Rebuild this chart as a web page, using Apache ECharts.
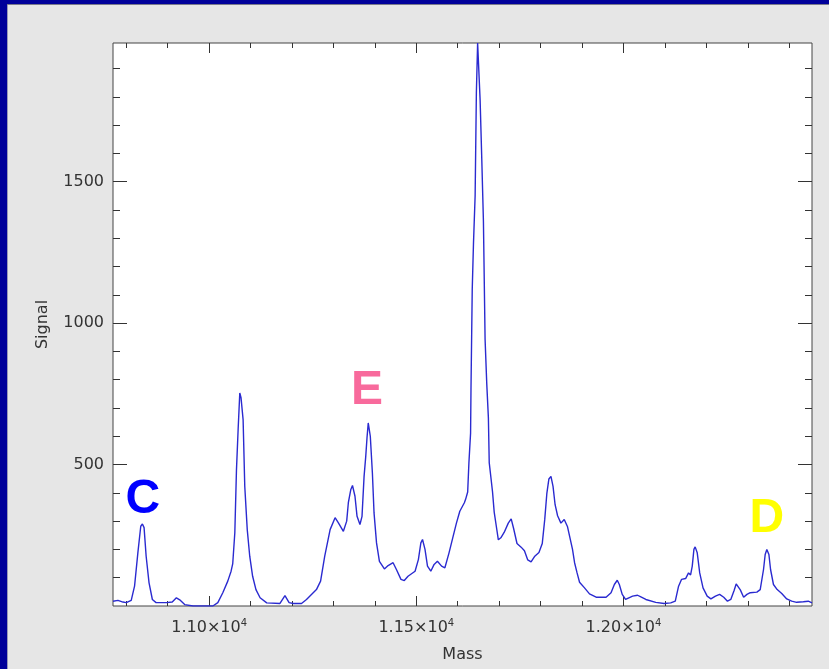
<!DOCTYPE html>
<html>
<head>
<meta charset="utf-8">
<script src="https://cdn.jsdelivr.net/npm/echarts@6/dist/echarts.min.js"></script>
<style>
  html, body { margin: 0; padding: 0; background: #e6e6e6; }
  #chart { width: 829px; height: 669px; }
</style>
</head>
<body>
<div id="chart"></div>
<script>
// Mass spectrum: signal vs. mass
const massValues = [
  10768, 10780, 10792, 10800, 10812, 10820, 10828, 10835, 10839, 10843,
  10848, 10855, 10863, 10872, 10897, 10911, 10921, 10929, 10941, 10961,
  11009, 11021, 11033, 11045, 11053, 11057, 11062, 11066, 11070, 11074,
  11077, 11079, 11082, 11086, 11092, 11098, 11105, 11113, 11123, 11139,
  11171, 11183, 11193, 11203, 11223, 11235, 11259, 11269, 11279, 11292,
  11304, 11312, 11324, 11332, 11336, 11342, 11346, 11352, 11357, 11364,
  11369, 11374, 11378, 11381, 11384, 11389, 11394, 11398, 11404, 11411,
  11423, 11432, 11444, 11452, 11463, 11471, 11480, 11497, 11505, 11511,
  11515, 11521, 11527, 11535, 11543, 11551, 11561, 11569, 11579, 11589,
  11597, 11605, 11616, 11619, 11624, 11627, 11631, 11632, 11635, 11638,
  11642, 11645, 11648, 11651, 11654, 11658, 11662, 11666, 11670, 11674,
  11676, 11680, 11684, 11688, 11694, 11698, 11704, 11712, 11722, 11729,
  11735, 11743, 11753, 11761, 11769, 11777, 11786, 11796, 11804, 11810,
  11815, 11820, 11825, 11830, 11835, 11841, 11849, 11857, 11865, 11871,
  11877, 11882, 11888, 11894, 11906, 11918, 11934, 11958, 11970, 11978,
  11985, 11990, 11997, 12005, 12013, 12022, 12034, 12042, 12054, 12078,
  12098, 12114, 12125, 12133, 12140, 12150, 12157, 12162, 12166, 12170,
  12173, 12178, 12184, 12192, 12202, 12211, 12222, 12232, 12242, 12251,
  12259, 12267, 12272, 12276, 12282, 12290, 12298, 12306, 12322, 12330,
  12338, 12342, 12346, 12351, 12355, 12362, 12371, 12382, 12394, 12406,
  12418, 12434, 12446, 12455
];
const signalValues = [
  17, 20, 14, 12, 20, 70, 188, 282, 290, 277,
  176, 82, 23, 12, 12, 14, 29, 22, 5, 0,
  0, 12, 47, 88, 123, 150, 259, 482, 624, 753,
  736, 729, 659, 423, 270, 176, 105, 58, 29, 11,
  9, 37, 12, 9, 9, 23, 58, 88, 176, 270,
  312, 294, 264, 300, 365, 412, 426, 388, 317, 288,
  317, 459, 529, 594, 647, 600, 471, 329, 223, 158,
  131, 143, 153, 129, 94, 90, 105, 123, 164, 223,
  235, 200, 141, 123, 147, 158, 141, 135, 188, 247,
  294, 335, 365, 377, 403, 507, 611, 768, 1119, 1281,
  1451, 1815, 1990, 1984, 1789, 1581, 1360, 943, 787, 664,
  507, 455, 403, 332, 273, 234, 241, 260, 293, 308,
  273, 221, 208, 195, 163, 156, 176, 189, 221, 306,
  397, 449, 458, 423, 358, 319, 293, 306, 280, 240,
  200, 153, 117, 84, 64, 43, 31, 31, 47, 76,
  91, 76, 41, 23, 29, 35, 38, 32, 23, 13,
  9, 11, 17, 70, 94, 97, 117, 110, 141, 200,
  209, 188, 117, 64, 35, 25, 35, 41, 31, 17,
  23, 55, 78, 80, 57, 31, 41, 47, 49, 58,
  129, 182, 200, 182, 129, 76, 58, 44, 25, 17,
  13, 15, 17, 11
];

// Axis ranges and tick positions
const massRange = [10768, 12455];
const signalRange = [0, 1990];
const xMajorTicks = [11000, 11500, 12000];
const xMinorTicks = [10800, 10900, 11100, 11200, 11300, 11400, 11600, 11700, 11800, 11900, 12100, 12200, 12300, 12400];
const yMajorTicks = [500, 1000, 1500];
const yMinorTicks = [100, 200, 300, 400, 600, 700, 800, 900, 1100, 1200, 1300, 1400, 1600, 1700, 1800, 1900];

// Peak annotations
const peakLetters = ['C', 'E', 'D'];
const peakMass = [10840, 11381, 12346];
const peakSignal = [374, 762, 309];
const peakColors = ['#0000ff', '#f86a9c', '#ffff00'];

const textFont = 'DejaVu Sans';
const textColor = '#333333';

function massLabel(v) {
  return '{b|' + (v / 10000).toFixed(2) + '×10}{s|4}';
}

function xAxisDef(position, ticks, len, withLabels) {
  return {
    type: 'value', position: position, min: massRange[0], max: massRange[1],
    axisLine: { show: false, onZero: false },
    splitLine: { show: false },
    axisTick: { show: true, inside: true, length: len, customValues: ticks,
                lineStyle: { color: '#333', width: 1 } },
    axisLabel: withLabels ? {
      show: true, customValues: ticks, margin: 12, formatter: massLabel,
      rich: {
        b: { fontFamily: textFont, fontSize: 16, color: textColor },
        s: { fontFamily: textFont, fontSize: 10, color: textColor, padding: [0, 0, 10, 0] }
      }
    } : { show: false },
    name: withLabels ? 'Mass' : '',
    nameLocation: 'middle', nameGap: 41,
    nameTextStyle: { fontFamily: textFont, fontSize: 16, color: textColor }
  };
}

function yAxisDef(position, ticks, len, withLabels) {
  return {
    type: 'value', position: position, min: signalRange[0], max: signalRange[1],
    axisLine: { show: false },
    splitLine: { show: false },
    axisTick: { show: true, inside: true, length: len, customValues: ticks,
                lineStyle: { color: '#333', width: 1 } },
    axisLabel: withLabels ? {
      show: true, customValues: ticks, margin: 9,
      formatter: (v) => String(v),
      fontFamily: textFont, fontSize: 16, color: textColor
    } : { show: false },
    name: withLabels ? 'Signal' : '',
    nameLocation: 'middle', nameGap: 62, nameRotate: 90,
    nameTextStyle: { fontFamily: textFont, fontSize: 16, color: textColor }
  };
}

const chart = echarts.init(document.getElementById('chart'), null, { renderer: 'canvas' });

const option = {
  backgroundColor: '#e6e6e6',
  animation: false,
  graphic: [
    { type: 'rect', shape: { x: 0, y: 0, width: 7, height: 669 }, style: { fill: '#00009a' }, z: 100 },
    { type: 'rect', shape: { x: 0, y: 0, width: 829, height: 4 }, style: { fill: '#00009a' }, z: 100 },
    { type: 'rect', shape: { x: 7, y: 4, width: 1, height: 665 }, style: { fill: '#9a9ab8' }, z: 100 },
    { type: 'rect', shape: { x: 7, y: 4, width: 822, height: 1 }, style: { fill: '#7a7a8a' }, z: 100 }
  ],
  grid: {
    left: 113, top: 43, width: 699, height: 563,
    show: true, backgroundColor: '#ffffff', borderColor: '#444444', borderWidth: 1
  },
  xAxis: [
    xAxisDef('bottom', xMajorTicks, 10, true),
    xAxisDef('bottom', xMinorTicks, 5, false),
    xAxisDef('top', xMajorTicks, 10, false),
    xAxisDef('top', xMinorTicks, 5, false)
  ],
  yAxis: [
    yAxisDef('left', yMajorTicks, 14, true),
    yAxisDef('left', yMinorTicks, 7, false),
    yAxisDef('right', yMajorTicks, 14, false),
    yAxisDef('right', yMinorTicks, 7, false)
  ],
  series: [
    {
      type: 'line',
      xAxisIndex: 0, yAxisIndex: 0,
      data: massValues.map((m, i) => [m, signalValues[i]]),
      showSymbol: false,
      clip: true,
      lineStyle: { color: '#2a2ad0', width: 1.4 },
      z: 3
    },
    {
      type: 'scatter',
      xAxisIndex: 0, yAxisIndex: 0,
      symbolSize: 0,
      itemStyle: { opacity: 1 },
      data: peakLetters.map((t, i) => ({
        value: [peakMass[i], peakSignal[i]],
        label: {
          show: true, position: 'inside', formatter: t, opacity: 1,
          fontFamily: 'Liberation Sans', fontWeight: 'bold', fontSize: 48,
          color: peakColors[i]
        }
      })),
      z: 4
    }
  ]
};

chart.setOption(option);
</script>
</body>
</html>
